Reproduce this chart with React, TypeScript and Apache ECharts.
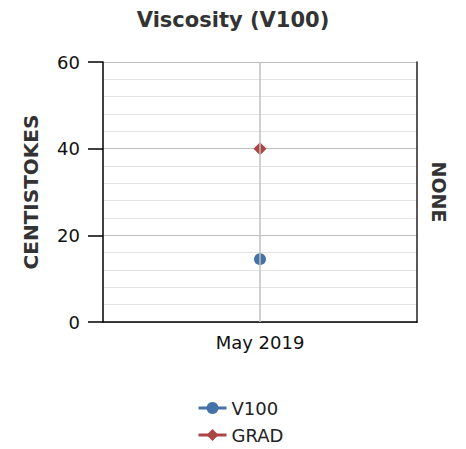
import React, { useEffect, useRef } from "react";
import * as echarts from "echarts";

const categories = ["May 2019"];
const v100Values = [14.5];
const gradValues = [40];
const yTicks = { min: 0, max: 60, interval: 20 };

export default function App() {
  const ref = useRef<HTMLDivElement>(null);
  useEffect(() => {
    document.body.style.margin = "0";
    const chart = echarts.init(ref.current!, null, { renderer: "svg" });
    const font = "DejaVu Sans, Verdana, sans-serif";
    chart.setOption({
      animation: false,
      textStyle: { fontFamily: font },
      title: {
        text: "Viscosity (V100)",
        left: "center",
        top: 4,
        textStyle: { fontFamily: font, fontSize: 21, fontWeight: "bold", color: "#333" },
      },
      grid: { left: 103, right: 49, top: 62, bottom: 127, containLabel: false },
      legend: {
        orient: "vertical",
        left: 197,
        top: 399,
        padding: 0,
        itemGap: 9,
        itemWidth: 28,
        itemHeight: 15,
        lineStyle: { width: 3 },
        textStyle: { fontFamily: font, fontSize: 18, color: "#222" },
        data: ["V100", "GRAD"],
      },
      xAxis: {
        type: "category",
        data: categories,
        boundaryGap: true,
        axisLine: { lineStyle: { color: "#000", width: 1.5 } },
        axisTick: { alignWithLabel: true, length: 13, lineStyle: { color: "#000", width: 1.5 } },
        axisLabel: { color: "#111", fontSize: 18, margin: 11, fontFamily: font },
        splitLine: { show: false },
      },
      yAxis: [
        {
          type: "value",
          min: yTicks.min,
          max: yTicks.max,
          interval: yTicks.interval,
          name: "CENTISTOKES",
          nameLocation: "middle",
          nameGap: 62,
          nameRotate: 90,
          nameTextStyle: { fontFamily: font, fontSize: 20, fontWeight: "bold", color: "#333" },
          axisLine: { show: true, lineStyle: { color: "#000", width: 1.5 } },
          axisTick: { show: true, length: 15, lineStyle: { color: "#000", width: 1.5 } },
          axisLabel: { color: "#111", fontSize: 18, margin: 23, fontFamily: font },
          splitLine: { show: true, lineStyle: { color: "#c0c0c0", width: 1 } },
          minorTick: { show: false, splitNumber: 5 },
          minorSplitLine: { show: true, lineStyle: { color: "#e3e3e3", width: 1 } },
        },
        {
          type: "value",
          position: "right",
          min: yTicks.min,
          max: yTicks.max,
          interval: yTicks.interval,
          name: "NONE",
          nameLocation: "middle",
          nameGap: 12,
          nameRotate: -90,
          nameTextStyle: { fontFamily: font, fontSize: 19, fontWeight: "bold", color: "#333" },
          axisLine: { show: true, lineStyle: { color: "#222", width: 1.5 } },
          axisTick: { show: false },
          axisLabel: { show: false },
          splitLine: { show: false },
        },
      ],
      series: [
        {
          name: "V100",
          type: "line",
          data: v100Values,
          symbol: "circle",
          symbolSize: 12,
          itemStyle: { color: "#4572A7" },
          lineStyle: { color: "#4572A7", width: 3 },
          markLine: {
            silent: true,
            symbol: "none",
            label: { show: false },
            lineStyle: { color: "#c0c0c0", type: "solid", width: 1.5 },
            data: [{ xAxis: 0 }],
          },
          z: 3,
        },
        {
          name: "GRAD",
          type: "line",
          data: gradValues,
          symbol: "diamond",
          symbolSize: 13,
          itemStyle: { color: "#AA4643" },
          lineStyle: { color: "#AA4643", width: 3 },
          z: 3,
        },
      ],
    });
    return () => chart.dispose();
  }, []);
  return <div ref={ref} style={{ width: 466, height: 449 }} />;
}
